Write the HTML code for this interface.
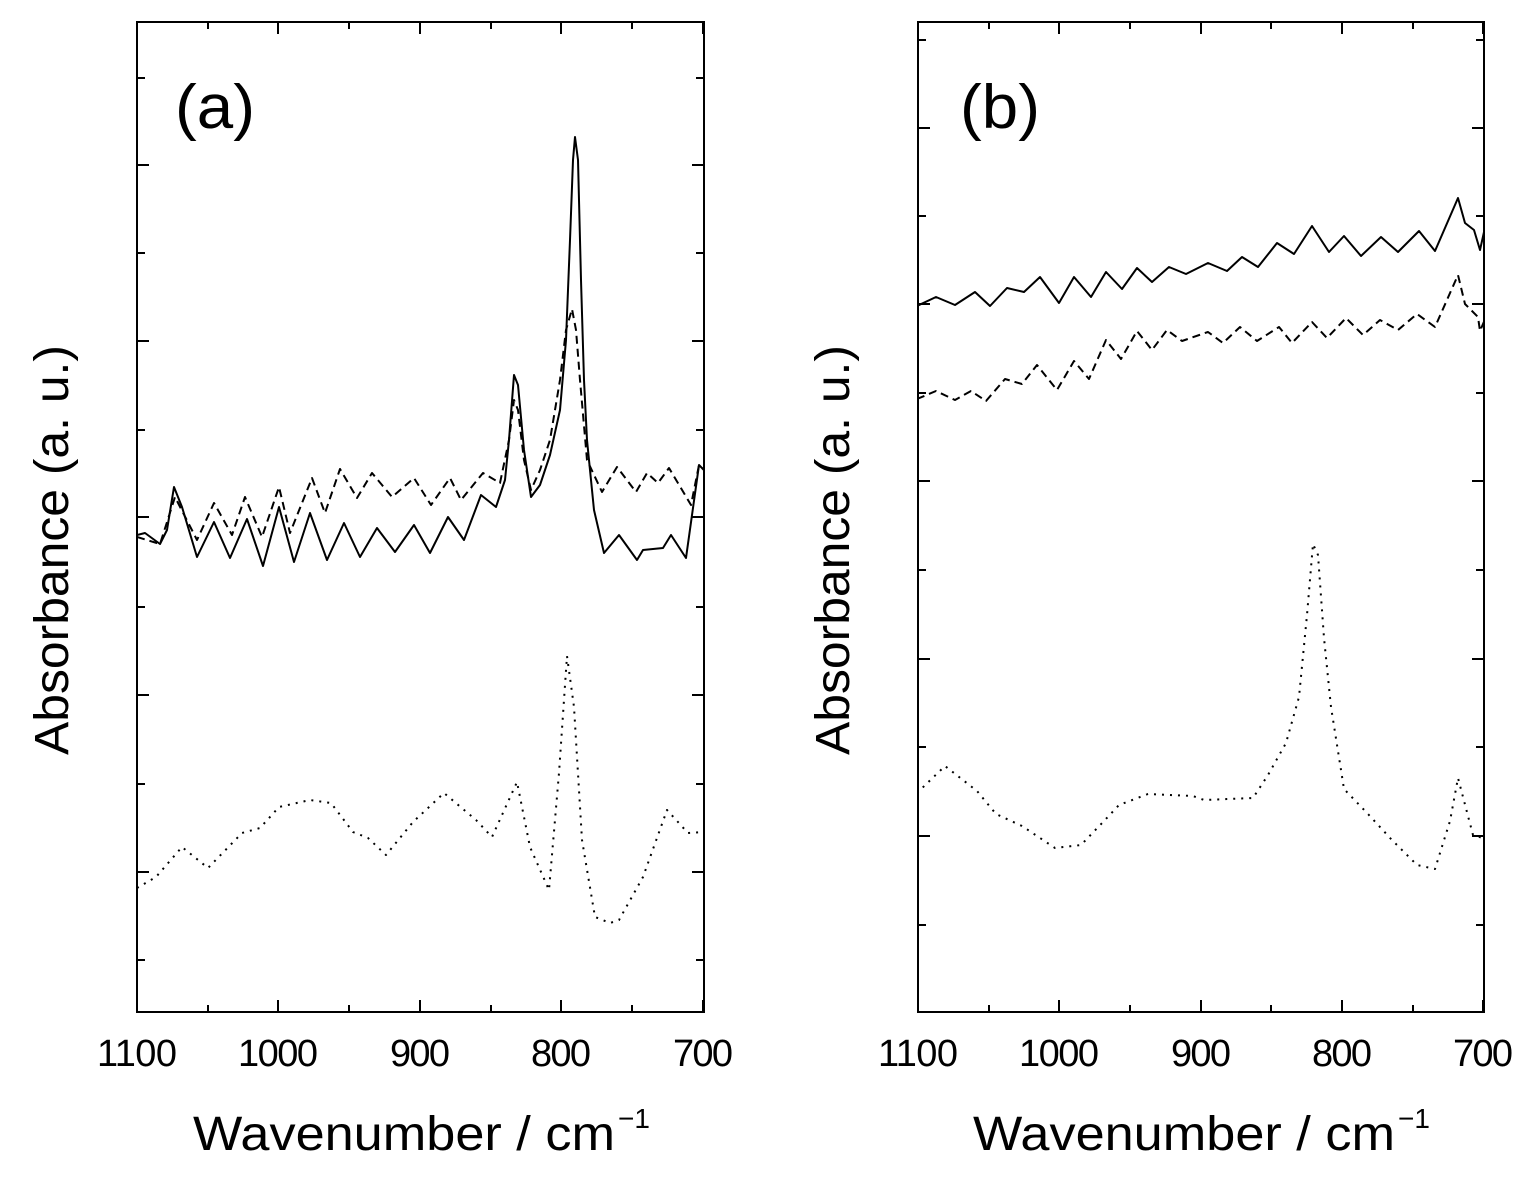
<!DOCTYPE html>
<html><head><meta charset="utf-8"><style>
html,body{margin:0;padding:0;background:#fff;}
svg{display:block;}
text{font-family:"Liberation Sans",sans-serif;fill:#000;}
</style></head><body>
<svg width="1534" height="1190" viewBox="0 0 1534 1190" xmlns="http://www.w3.org/2000/svg">
<defs>
<clipPath id="ca"><rect x="137" y="22" width="567" height="990"/></clipPath>
<clipPath id="cb"><rect x="918" y="22" width="566" height="990"/></clipPath>
</defs>
<g fill="none" stroke="#000" stroke-width="2">
<rect x="137" y="22" width="567" height="990"/>
<rect x="918" y="22" width="566" height="990"/>
<path d="M137,1012v-12M208,1012v-7M278,1012v-12M349,1012v-7M420,1012v-12M491,1012v-7M561,1012v-12M632,1012v-7M703,1012v-12
M137,22v12M208,22v7M278,22v12M349,22v7M420,22v12M491,22v7M561,22v12M632,22v7M703,22v12"/>
<path d="M918,1012v-12M989,1012v-7M1059,1012v-12M1130,1012v-7M1201,1012v-12M1271,1012v-7M1342,1012v-12M1413,1012v-7M1483,1012v-12
M918,22v12M989,22v7M1059,22v12M1130,22v7M1201,22v12M1271,22v7M1342,22v12M1413,22v7M1483,22v12"/>
<path d="M137,78h8M137,165h12M137,253h8M137,341h12M137,430h8M137,517h12M137,607h8M137,695h12M137,784h8M137,872h12M137,960h8
M704,78h-8M704,165h-12M704,253h-8M704,341h-12M704,430h-8M704,517h-12M704,607h-8M704,695h-12M704,784h-8M704,872h-12M704,960h-8"/>
<path d="M918,40h8M918,128h12M918,216h8M918,304h12M918,393h8M918,481h12M918,570h8M918,659h12M918,747h8M918,836h12M918,925h8
M1484,40h-8M1484,128h-12M1484,216h-8M1484,304h-12M1484,393h-8M1484,481h-12M1484,570h-8M1484,659h-12M1484,747h-8M1484,836h-12M1484,925h-8"/>
</g>
<g fill="none" stroke="#000" stroke-linejoin="round" clip-path="url(#ca)">
<polyline stroke-width="2" points="137,535 145,533 160,544 167,530 174,487 182,507 197,557 214,522 230,558 247,519 263,566 279,507 294,562 310,513 327,560 344,523 360,557 377,528 395,552 414,525 430,553 448,517 464,540 481,495 496,507 505,480 509,440 514,375 518,385 524,450 531,497 540,485 550,455 560,410 566,340 570,240 573,160 575,137 578,160 581,280 584,380 587,440 594,510 604,553 619,535 637,560 643,550 663,548 671,535 686,558 699,465 704,470"/>
<polyline stroke-width="2" stroke-dasharray="8,5" points="137,537 160,544 175,497 197,540 214,503 232,535 245,497 262,537 279,487 290,533 312,478 325,513 340,469 357,498 372,473 392,497 414,478 431,505 450,478 461,500 483,473 500,483 509,440 514,400 518,410 524,460 531,490 540,470 550,440 560,380 566,330 572,309 576,330 580,380 587,460 602,492 617,467 636,492 647,473 658,483 669,468 691,505 699,465 704,470"/>
<polyline stroke-width="2" stroke-dasharray="2,6" points="137,888 156,877 182,847 208,868 242,833 260,828 279,807 310,800 331,803 353,832 368,838 386,855 413,822 444,793 476,820 492,837 517,782 530,847 549,890 559,773 567,656 574,707 582,840 595,917 610,923 619,920 643,877 667,810 688,833 704,832"/>
</g>
<g fill="none" stroke="#000" stroke-linejoin="round" clip-path="url(#cb)">
<polyline stroke-width="2" points="917,306 936,297 955,305 975,292 990,306 1007,288 1024,292 1040,277 1059,303 1074,277 1091,297 1106,272 1122,289 1137,268 1152,282 1169,267 1186,274 1208,263 1227,271 1242,257 1258,267 1277,243 1294,254 1312,226 1329,252 1344,236 1361,256 1381,237 1398,252 1419,231 1435,251 1458,198 1465,223 1474,230 1480,250 1486,223"/>
<polyline stroke-width="2" stroke-dasharray="8,5" points="917,399 936,391 955,400 971,391 986,401 1005,379 1022,384 1037,365 1057,390 1074,361 1089,379 1106,340 1121,359 1137,331 1152,350 1167,330 1182,341 1208,332 1223,343 1240,327 1257,341 1279,327 1292,343 1312,322 1327,338 1346,318 1363,335 1380,320 1398,330 1417,314 1435,327 1458,275 1465,304 1478,317 1480,331 1486,317"/>
<polyline stroke-width="2" stroke-dasharray="2,6" points="917,793 945,766 977,791 996,814 1022,826 1055,848 1081,845 1104,821 1119,805 1148,794 1193,796 1204,800 1253,798 1268,775 1286,743 1299,697 1307,615 1313,544 1318,555 1324,638 1331,707 1344,789 1368,814 1391,839 1417,865 1435,869 1450,821 1458,778 1473,835 1486,839"/>
</g>
<text x="175" y="128" font-size="62" textLength="80" lengthAdjust="spacingAndGlyphs">(a)</text>
<text x="960" y="128" font-size="62" textLength="80" lengthAdjust="spacingAndGlyphs">(b)</text>
<g font-size="38" text-anchor="middle" lengthAdjust="spacingAndGlyphs">
<text x="137" y="1066" textLength="80">1100</text><text x="278" y="1066" textLength="80">1000</text><text x="420" y="1066" textLength="60">900</text><text x="561" y="1066" textLength="60">800</text><text x="703" y="1066" textLength="60">700</text>
<text x="918" y="1066" textLength="80">1100</text><text x="1059" y="1066" textLength="80">1000</text><text x="1201" y="1066" textLength="60">900</text><text x="1342" y="1066" textLength="60">800</text><text x="1483" y="1066" textLength="60">700</text>
</g>
<text x="193" y="1150" font-size="48" textLength="422" lengthAdjust="spacingAndGlyphs">Wavenumber / cm</text>
<text x="618" y="1128" font-size="28">−1</text>
<text x="973" y="1150" font-size="48" textLength="422" lengthAdjust="spacingAndGlyphs">Wavenumber / cm</text>
<text x="1398" y="1128" font-size="28">−1</text>
<text transform="translate(68,550) rotate(-90)" font-size="48" text-anchor="middle" textLength="410" lengthAdjust="spacingAndGlyphs">Absorbance (a. u.)</text>
<text transform="translate(849,550) rotate(-90)" font-size="48" text-anchor="middle" textLength="410" lengthAdjust="spacingAndGlyphs">Absorbance (a. u.)</text>
</svg>
</body></html>
